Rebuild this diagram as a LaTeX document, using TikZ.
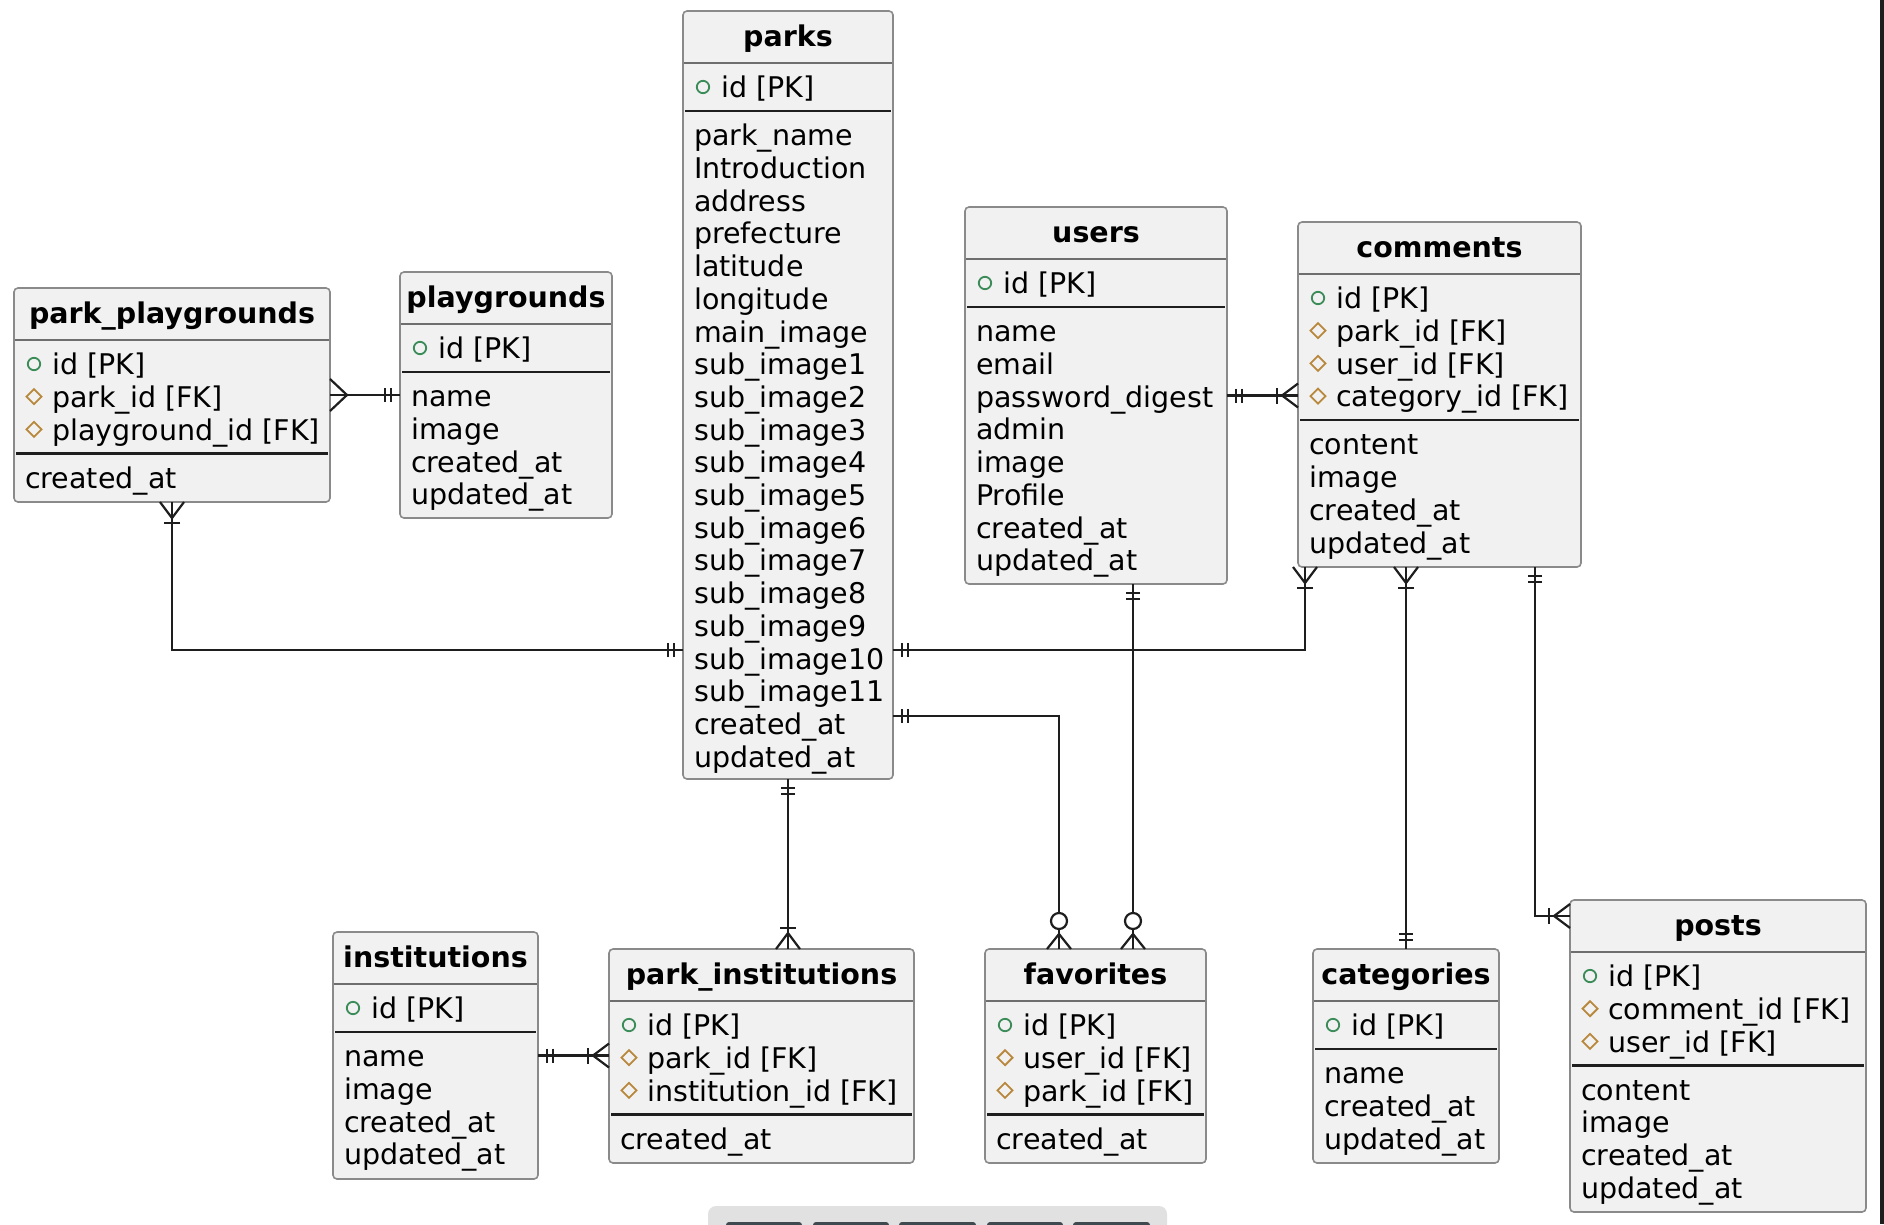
\documentclass[tikz,border=0pt]{standalone}
\usepackage{fontspec}
\setmainfont{DejaVu Sans}
\definecolor{boxfill}{HTML}{F1F1F1}
\definecolor{boxline}{HTML}{8A8A8A}
\definecolor{sepline}{HTML}{6E6E6E}
\definecolor{connc}{HTML}{1E1E1E}
\definecolor{pkgreen}{HTML}{3C8C5A}
\definecolor{fkgold}{HTML}{B8883C}
\definecolor{barfill}{HTML}{E1E1E1}
\definecolor{tabfill}{HTML}{3F4950}
\tikzset{
  box/.style={draw=boxline, fill=boxfill, line width=1.6, rounded corners=4, inner sep=0, outer sep=0},
  ttl/.style={font=\bfseries, inner sep=0, anchor=mid},
  rowtxt/.style={inner sep=0, anchor=mid west},
  titlesep/.style={draw=sepline, line width=1.3},
  keysep/.style={draw=connc, line width=2.2},
  conn/.style={draw=connc, line width=2.2},
  mk/.style={draw=connc, line width=2.2},
  pics/one/.style={code={\draw[mk] (9,-7)--(9,7) (15,-7)--(15,7);}},
  pics/many/.style={code={\draw[mk] (0,-16)--(17,0)--(0,16);}},
  pics/manyone/.style={code={\draw[mk] (0,-12)--(16,0)--(0,12); \draw[mk] (21,-8)--(21,8);}},
  pics/zeromany/.style={code={\draw[mk] (0,-12)--(15,0)--(0,12); \draw[mk, fill=white] (28,0) circle (8);}},
  pics/markp/.style={code={\draw[pkgreen, line width=1.8] (0,0) circle (6.2);}},
  pics/markf/.style={code={\draw[fkgold, line width=1.8] (-7.5,0)--(0,-7.5)--(7.5,0)--(0,7.5)--cycle;}},
}
% #1 name, #2 left, #3 top, #4 right, #5 bottom, #6 title, #7 key rows (type/text), #8 attributes
\newcommand\erbox[8]{%
  \node[box, anchor=north west, minimum width={(#4)-(#2)}, minimum height={(#5)-(#3)}] (#1) at (#2,#3) {};
  \node[ttl] (#1-title) at ({((#2)+(#4))/2},{(#3)+28}) {#6};
  \draw[titlesep] ({(#2)+1},{(#3)+52}) -- ({(#4)-1},{(#3)+52});
  \foreach \ty/\tx [count=\i] in {#7} {
    \pgfmathsetmacro\yy{(#3)+76+(\i-1)*32.7}
    \if p\ty \pic at ({(#2)+20},\yy) {markp}; \else \pic at ({(#2)+20},\yy) {markf}; \fi
    \node[rowtxt] (#1-k\i) at ({(#2)+38},\yy+3) {\tx};
    \xdef\nkeys{\i}
  }
  \pgfmathsetmacro\ysep{(#3)+76+(\nkeys-1)*32.7+24}
  \draw[keysep] ({(#2)+2},\ysep) -- ({(#4)-2},\ysep);
  \foreach \tx [count=\i] in {#8} {
    \node[rowtxt] (#1-a\i) at ({(#2)+11},{\ysep+27+(\i-1)*32.7}) {\tx};
  }
}
\begin{document}
\fontsize{28.5}{33}\selectfont
\begin{tikzpicture}[x=1pt, y=-1pt]
\clip (0,0) rectangle (1884,1224);
\fill[white] (0,0) rectangle (1884,1224);

\erbox{parks}{683}{11}{893}{779}{parks}{p/id [PK]}
  {park\_name, Introduction, address, prefecture, latitude, longitude, main\_image,
   sub\_image1, sub\_image2, sub\_image3, sub\_image4, sub\_image5, sub\_image6, sub\_image7,
   sub\_image8, sub\_image9, sub\_image10, sub\_image11, created\_at, updated\_at}
\erbox{pp}{14}{288}{330}{502}{park\_playgrounds}{p/id [PK], f/park\_id [FK], f/playground\_id [FK]}
  {created\_at}
\erbox{pg}{400}{272}{612}{518}{playgrounds}{p/id [PK]}
  {name, image, created\_at, updated\_at}
\erbox{users}{965}{207}{1227}{584}{users}{p/id [PK]}
  {name, email, password\_digest, admin, image, Profile, created\_at, updated\_at}
\erbox{comments}{1298}{222}{1581}{567}{comments}{p/id [PK], f/park\_id [FK], f/user\_id [FK], f/category\_id [FK]}
  {content, image, created\_at, updated\_at}
\erbox{inst}{333}{932}{538}{1179}{institutions}{p/id [PK]}
  {name, image, created\_at, updated\_at}
\erbox{pi}{609}{949}{914}{1163}{park\_institutions}{p/id [PK], f/park\_id [FK], f/institution\_id [FK]}
  {created\_at}
\erbox{fav}{985}{949}{1206}{1163}{favorites}{p/id [PK], f/user\_id [FK], f/park\_id [FK]}
  {created\_at}
\erbox{cat}{1313}{949}{1499}{1163}{categories}{p/id [PK]}
  {name, created\_at, updated\_at}
\erbox{posts}{1570}{900}{1866}{1212}{posts}{p/id [PK], f/comment\_id [FK], f/user\_id [FK]}
  {content, image, created\_at, updated\_at}

% helper coordinates for connector routes
\coordinate (y650) at (0,650);
\coordinate (y716) at (0,716);
\coordinate (y916) at (0,916);
\coordinate (x1305) at (1305,0);
\coordinate (x1535) at (1535,0);
\coordinate (x1059) at (1059,0);
\coordinate (x1133) at (1133,0);

% connectors
\draw[conn] (pp.east) -- (pg.west);
\pic[rotate=0] at (pp.east) {many};
\pic[rotate=180] at (pg.west) {one};

\draw[conn] (users.east) -- (users.east -| comments.west);
\pic[rotate=0] at (users.east) {one};
\pic[rotate=180] at (users.east -| comments.west) {manyone};

\draw[conn] (pp.south) |- (parks.west |- y650);
\pic[rotate=270] at (pp.south) {manyone};
\pic[rotate=180] at (parks.west |- y650) {one};

\draw[conn] (parks.east |- y650) -| (comments.south -| x1305);
\pic[rotate=0] at (parks.east |- y650) {one};
\pic[rotate=270] at (comments.south -| x1305) {manyone};

\draw[conn] (cat.north |- comments.south) -- (cat.north);
\pic[rotate=270] at (cat.north |- comments.south) {manyone};
\pic[rotate=90] at (cat.north) {one};

\draw[conn] (comments.south -| x1535) |- (posts.west |- y916);
\pic[rotate=270] at (comments.south -| x1535) {one};
\pic[rotate=180] at (posts.west |- y916) {manyone};

\draw[conn] (parks.east |- y716) -| (fav.north -| x1059);
\pic[rotate=0] at (parks.east |- y716) {one};
\pic[rotate=90] at (fav.north -| x1059) {zeromany};

\draw[conn] (users.south -| x1133) -- (fav.north -| x1133);
\pic[rotate=270] at (users.south -| x1133) {one};
\pic[rotate=90] at (fav.north -| x1133) {zeromany};

\draw[conn] (parks.south) -- (parks.south |- pi.north);
\pic[rotate=270] at (parks.south) {one};
\pic[rotate=90] at (parks.south |- pi.north) {manyone};

\draw[conn] (inst.east) -- (inst.east -| pi.west);
\pic[rotate=0] at (inst.east) {one};
\pic[rotate=180] at (inst.east -| pi.west) {manyone};

% window chrome at the edges
\fill[barfill, rounded corners=8] (708,1206) rectangle (1167,1250);
\foreach \a/\b in {726/802, 813/889, 899/976, 987/1063, 1073/1150}
  \fill[tabfill, rounded corners=3] (\a,1222) rectangle (\b,1236);
\fill[connc] (1880,0) rectangle (1884,1224);
\end{tikzpicture}
\end{document}
